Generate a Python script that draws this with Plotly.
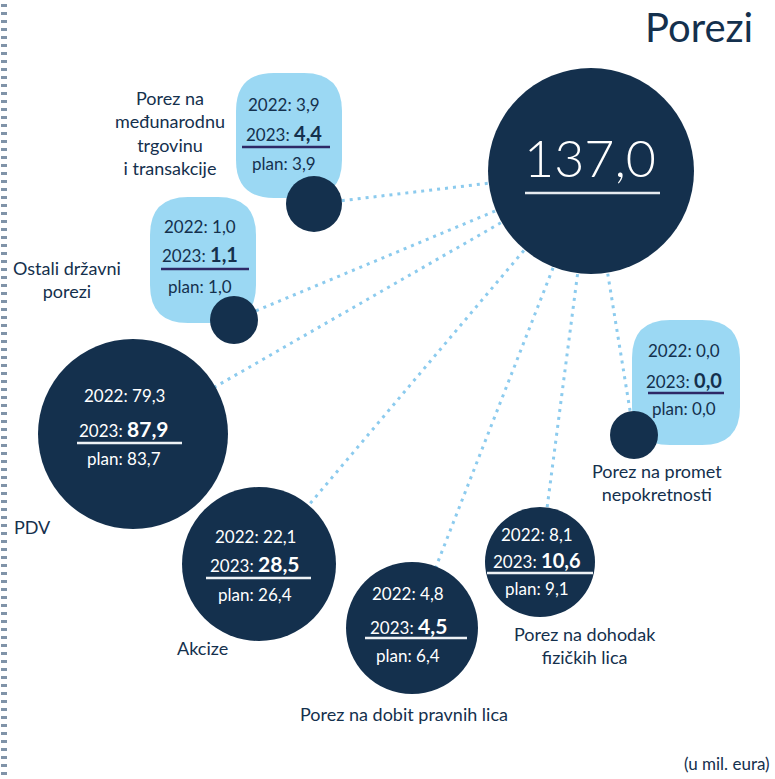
import plotly.graph_objects as go

# ---------------- data ----------------
categories = ["PDV", "Akcize", "Porez na dobit pravnih lica",
              "Porez na dohodak fizičkih lica", "Porez na promet nepokretnosti",
              "Porez na međunarodnu trgovinu i transakcije", "Ostali državni porezi"]
label_lines = [["PDV"], ["Akcize"], ["Porez na dobit pravnih lica"],
               ["Porez na dohodak", "fizičkih lica"], ["Porez na promet", "nepokretnosti"],
               ["Porez na", "međunarodnu", "trgovinu", "i transakcije"],
               ["Ostali državni", "porezi"]]
v2022 = [79.3, 22.1, 4.8, 8.1, 0.0, 3.9, 1.0]
v2023 = [87.9, 28.5, 4.5, 10.6, 0.0, 4.4, 1.1]
plan = [83.7, 26.4, 6.4, 9.1, 0.0, 3.9, 1.0]
total = 137.0
title = "Porezi"
unit_note = "(u mil. eura)"

# ---------------- layout (pixel canvas) ----------------
W, H = 775, 779
big_xy, big_r = (591, 171), 103
node_xy = [(133, 434), (259, 564), (412, 628), (540, 562), (634, 435), (314, 204), (234, 320)]
node_r = [95, 77, 66, 55, 24, 28, 24]
# text block: centre x, y of 2022 / 2023 / underline / plan, underline x0,x1
block_cx = [124, 255, 408, 537, 684, 284, 200]
block_y = [(395, 428, 443, 458), (536, 563, 578, 594), (593, 625, 638, 655),
           (534, 560, 573, 588), (350, 380, 393, 408), (104, 133, 147, 163),
           (226, 254, 269, 286)]
ul_x = [(77, 182), (206, 311), (365, 467), (487, 593), (648, 724), (242, 330), (161, 249)]
# light boxes (index -> x0,y0,x1,y1)
boxes = {4: (632, 320, 740, 445), 5: (236, 73, 342, 198), 6: (150, 197, 256, 323)}
# label centre x, centre y
label_pos = [(32, 527), (202, 648), (404, 714), (585, 645),
             (657, 482), (170, 133), (67, 279)]

NAVY = "#14304d"
LIGHT = "#9bd8f3"
DOT = "#8ccbee"
PURPLE = "#2e2866"
FONT = "Lato, 'Open Sans', sans-serif"


def fmt(v):
    return f"{v:.1f}".replace(".", ",")


fig = go.Figure()

# connecting dotted lines
for (x, y) in node_xy:
    fig.add_trace(go.Scatter(x=[big_xy[0], x], y=[big_xy[1], y], mode="lines",
                             line=dict(color=DOT, width=3, dash="3px,5px"),
                             hoverinfo="skip", showlegend=False))

# light rounded boxes
shapes = []
for i, (x0, y0, x1, y1) in boxes.items():
    r = 38
    path = (f"M {x0+r},{y0} L {x1-r},{y0} Q {x1},{y0} {x1},{y0+r} "
            f"L {x1},{y1-r} Q {x1},{y1} {x1-r},{y1} L {x0+r},{y1} "
            f"Q {x0},{y1} {x0},{y1-r} L {x0},{y0+r} Q {x0},{y0} {x0+r},{y0} Z")
    shapes.append(dict(type="path", path=path, xref="x", yref="y",
                       fillcolor=LIGHT, line=dict(width=0), layer="below"))

# circles (markers, diameter in px == 2r on 1:1 canvas)
fig.add_trace(go.Scatter(
    x=[big_xy[0]] + [p[0] for p in node_xy],
    y=[big_xy[1]] + [p[1] for p in node_xy],
    mode="markers",
    marker=dict(size=[2 * big_r] + [2 * r for r in node_r], color=NAVY,
                line=dict(width=0), opacity=1),
    text=["Ukupno"] + categories, hoverinfo="text", showlegend=False))

annotations = []
# centre total
annotations.append(dict(x=big_xy[0] - 1, y=157, text=fmt(total), showarrow=False,
                        font=dict(family=FONT, size=52, color="white", weight=300),
                        xanchor="center", yanchor="middle"))
shapes.append(dict(type="line", x0=525, x1=660, y0=193, y1=193, xref="x", yref="y",
                   line=dict(color="#e6ebf0", width=2.5)))

for i in range(len(categories)):
    dark = i not in boxes
    col = "white" if dark else NAVY
    cx = block_cx[i]
    y22, y23, yul, ypl = block_y[i]
    big = 21 if node_r[i] > 60 else 20
    rows = [(y22, f"2022: {fmt(v2022[i])}"),
            (y23, f"2023: <b><span style='font-size:{big}px'>{fmt(v2023[i])}</span></b>"),
            (ypl, f"plan: {fmt(plan[i])}")]
    for yy, txt in rows:
        annotations.append(dict(x=cx, y=yy, text=txt, showarrow=False,
                                font=dict(family=FONT, size=17, color=col),
                                xanchor="center", yanchor="middle", borderpad=0))
    shapes.append(dict(type="line", x0=ul_x[i][0], x1=ul_x[i][1], y0=yul, y1=yul,
                       xref="x", yref="y",
                       line=dict(color="#eef2f6" if dark else PURPLE, width=2.5)))
    lx, ly = label_pos[i]
    annotations.append(dict(x=lx, y=ly, text="<br>".join(label_lines[i]), showarrow=False,
                            font=dict(family=FONT, size=18, color=NAVY), align="center",
                            xanchor="center", yanchor="middle", borderpad=0))

annotations.append(dict(x=755, y=27, text=title, showarrow=False,
                        font=dict(family=FONT, size=40, color=NAVY),
                        xanchor="right", yanchor="middle"))
annotations.append(dict(x=772, y=763, text=unit_note, showarrow=False,
                        font=dict(family=FONT, size=17, color=NAVY),
                        xanchor="right", yanchor="middle"))

# dashed left border
shapes.append(dict(type="line", x0=4, x1=4, y0=4, y1=776, xref="x", yref="y",
                   line=dict(color="#8093a8", width=6, dash="3px,5px")))

fig.update_layout(
    width=W, height=H, margin=dict(l=0, r=0, t=0, b=0),
    paper_bgcolor="white", plot_bgcolor="white",
    xaxis=dict(range=[0, W], visible=False, fixedrange=True),
    yaxis=dict(range=[H, 0], visible=False, fixedrange=True),
    shapes=shapes, annotations=annotations, showlegend=False,
)

fig.write_html("out.html",
               config={"displayModeBar": False},
               post_script="document.body.style.margin='0';"
                           "document.body.style.overflow='hidden';")
